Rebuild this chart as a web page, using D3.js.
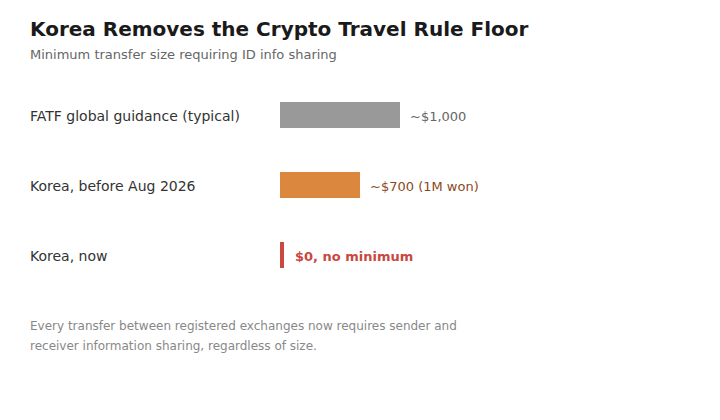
<!DOCTYPE html>
<html><head><meta charset="utf-8">
<script src="https://cdn.jsdelivr.net/npm/d3@7"></script>
<style>body{margin:0;background:#fff;} svg{display:block;font-family:"DejaVu Sans",sans-serif;}</style>
</head><body>
<div id="chart"></div>
<script>
const categories = ["FATF global guidance (typical)", "Korea, before Aug 2026", "Korea, now"];
const values = [1000, 667, 0];
const valueLabels = ["~$1,000", "~$700 (1M won)", "$0, no minimum"];
const barColors = ["#999999", "#db883e", "#c9483f"];
const labelColors = ["#666666", "#8c4a1c", "#c9483f"];
const labelWeights = ["normal", "normal", "bold"];

const W = 720, H = 420;
const svg = d3.select("#chart").append("svg").attr("width", W).attr("height", H);

svg.append("text").attr("x", 30).attr("y", 36).attr("font-size", 20).attr("font-weight", "bold")
  .attr("fill", "#1a1a1a").text("Korea Removes the Crypto Travel Rule Floor");
svg.append("text").attr("x", 30).attr("y", 59).attr("font-size", 13).attr("fill", "#666")
  .text("Minimum transfer size requiring ID info sharing");

const x = d3.scaleLinear().domain([0, 1000]).range([280, 400]);
const y = d3.scaleBand().domain(categories).range([80, 290]).paddingInner(0.628).paddingOuter(0.314);
const minW = 4;

const rows = svg.append("g").selectAll("g").data(categories).join("g");
rows.append("text").attr("x", 30).attr("y", d => y(d) + y.bandwidth() / 2 + 1).attr("dy", "0.35em")
  .attr("font-size", 14).attr("fill", "#333").text(d => d);
rows.append("rect").attr("x", x(0)).attr("y", d => y(d)).attr("height", y.bandwidth())
  .attr("width", (d, i) => Math.max(minW, x(values[i]) - x(0)))
  .attr("fill", (d, i) => barColors[i]);
rows.append("text")
  .attr("x", (d, i) => x(0) + Math.max(minW, x(values[i]) - x(0)) + (values[i] === 0 ? 11 : 10))
  .attr("y", d => y(d) + y.bandwidth() / 2 + 1).attr("dy", "0.35em")
  .attr("font-size", 13).attr("fill", (d, i) => labelColors[i]).attr("font-weight", (d, i) => labelWeights[i])
  .text((d, i) => valueLabels[i]);

const foot = ["Every transfer between registered exchanges now requires sender and",
              "receiver information sharing, regardless of size."];
svg.append("g").selectAll("text").data(foot).join("text").attr("x", 30).attr("y", (d, i) => 330 + i * 20)
  .attr("font-size", 12).attr("fill", "#888").text(d => d);
</script>
</body></html>
